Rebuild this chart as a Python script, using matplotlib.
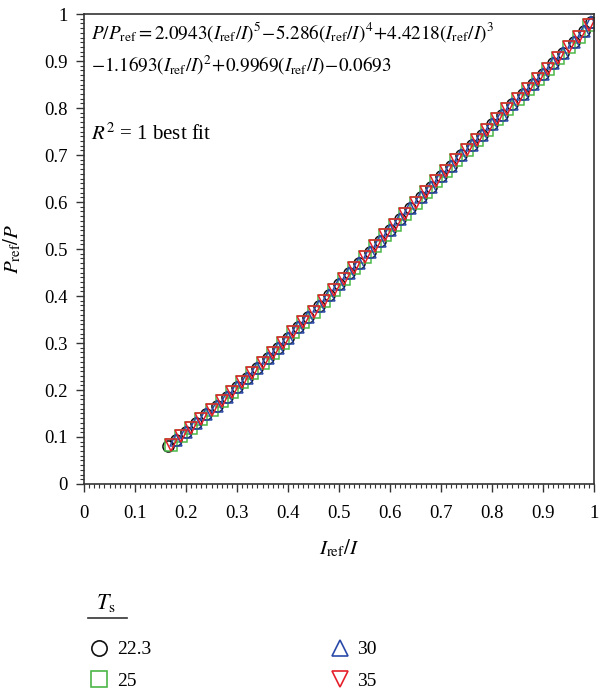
import matplotlib
matplotlib.use("Agg")
import matplotlib.pyplot as plt
from matplotlib.lines import Line2D
from matplotlib.ticker import MultipleLocator, FuncFormatter

plt.rcParams['font.family'] = ['Liberation Serif', 'DejaVu Serif']
plt.rcParams['mathtext.fontset'] = 'stix'

# Points, Iref/I on x, Pref/P on y
x_even = [0.165, 0.18, 0.20, 0.22, 0.24, 0.26, 0.28, 0.30, 0.32, 0.34, 0.36, 0.38,
          0.40, 0.42, 0.44, 0.46, 0.48, 0.50, 0.52, 0.54, 0.56, 0.58, 0.60,
          0.62, 0.64, 0.66, 0.68, 0.70, 0.72, 0.74, 0.76, 0.78, 0.80,
          0.82, 0.84, 0.86, 0.88, 0.90, 0.92, 0.94, 0.96, 0.98, 0.995]
y_even = [0.080, 0.093, 0.111, 0.129, 0.148, 0.167, 0.186, 0.206, 0.226, 0.247, 0.268, 0.290,
          0.311, 0.334, 0.356, 0.379, 0.402, 0.425, 0.448, 0.471, 0.494, 0.518, 0.541,
          0.564, 0.587, 0.610, 0.633, 0.655, 0.677, 0.700, 0.722, 0.743, 0.765,
          0.786, 0.808, 0.829, 0.851, 0.873, 0.895, 0.917, 0.940, 0.964, 0.982]
x_odd = [0.17, 0.19, 0.21, 0.23, 0.25, 0.27, 0.29, 0.31, 0.33, 0.35, 0.37, 0.39,
         0.41, 0.43, 0.45, 0.47, 0.49, 0.51, 0.53, 0.55, 0.57, 0.59, 0.61,
         0.63, 0.65, 0.67, 0.69, 0.71, 0.73, 0.75, 0.77, 0.79, 0.81,
         0.83, 0.85, 0.87, 0.89, 0.91, 0.93, 0.95, 0.97, 0.99]
y_odd = [0.084, 0.102, 0.120, 0.138, 0.157, 0.177, 0.196, 0.216, 0.237, 0.258, 0.279, 0.301,
         0.323, 0.345, 0.367, 0.390, 0.413, 0.436, 0.459, 0.483, 0.506, 0.529, 0.552,
         0.575, 0.598, 0.621, 0.644, 0.666, 0.689, 0.711, 0.732, 0.754, 0.776,
         0.797, 0.819, 0.840, 0.862, 0.884, 0.906, 0.929, 0.952, 0.976]

labels = ["22.3", "25", "30", "35"]
markers = ["o", "s", "^", "v"]
colors = ["#111111", "#4cb848", "#2a4aa8", "#e5202a"]
xs = [x_even, x_odd, x_even[1:], x_odd]
ys = [y_even, y_odd, y_even[1:], y_odd]

fig = plt.figure(figsize=(6, 6.94), dpi=100)
ax = fig.add_axes([0.14, 0.3026, 0.85, 0.6772])

handles = []
for x, y, m, c, lab in zip(xs, ys, markers, colors, labels):
    ax.plot(x, y, linestyle="none", marker=m, markersize=8, markerfacecolor="none",
            markeredgecolor=c, markeredgewidth=1.1)
    handles.append(Line2D([], [], linestyle="none", marker=m, markersize=11,
                          markerfacecolor="none", markeredgecolor=c,
                          markeredgewidth=1.2, label=lab))

ax.set_xlim(0, 1)
ax.set_ylim(0, 1)
ax.xaxis.set_major_locator(MultipleLocator(0.1))
ax.xaxis.set_minor_locator(MultipleLocator(0.01))
ax.yaxis.set_major_locator(MultipleLocator(0.1))
ax.yaxis.set_minor_locator(MultipleLocator(0.01))
fmt = FuncFormatter(lambda v, p: "%g" % round(v, 2))
ax.xaxis.set_major_formatter(fmt)
ax.yaxis.set_major_formatter(fmt)
ax.tick_params(which="major", direction="out", length=6, width=1.0, labelsize=13.5,
               color="#333333", pad=6)
ax.tick_params(axis="x", which="major", pad=9)
ax.tick_params(which="minor", direction="out", length=3, width=0.8, color="#333333")
for s in ax.spines.values():
    s.set_color("#333333")
    s.set_linewidth(1.2)

ax.set_xlabel(r"$I_\mathrm{ref}/I$", fontsize=15, labelpad=11)
ax.set_ylabel(r"$P_\mathrm{ref}/P$", fontsize=15, labelpad=15)

ax.text(0.013, 0.962,
        r"$P/P_\mathrm{ref} = 2.0943(I_\mathrm{ref}/I)^5\!-\!5.286(I_\mathrm{ref}/I)^4\!+\!4.4218(I_\mathrm{ref}/I)^3$",
        transform=ax.transAxes, fontsize=13.8, va="center", ha="left")
ax.text(0.013, 0.89,
        r"$-1.1693(I_\mathrm{ref}/I)^2\!+\!0.9969(I_\mathrm{ref}/I)\!-\!0.0693$",
        transform=ax.transAxes, fontsize=13.8, va="center", ha="left")
ax.text(0.013, 0.745, r"$R^2$ = 1 best fit", transform=ax.transAxes,
        fontsize=15, va="center", ha="left")

# legend with underlined title
fig.text(0.177, 1 - 603 / 694, r"$T_\mathrm{s}$", fontsize=16, ha="center", va="center")
fig.add_artist(Line2D([88 / 600, 127 / 600], [1 - 618 / 694, 1 - 618 / 694],
                      color="#333333", lw=1.2, transform=fig.transFigure))
fig.legend(handles=handles, ncol=2, loc="upper left", bbox_to_anchor=(0.133, 1 - 633 / 694),
           frameon=False, fontsize=14, handletextpad=0.3, columnspacing=9.1,
           labelspacing=0.7, handlelength=1.2, borderaxespad=0)

fig.savefig("out.png", dpi=100)
